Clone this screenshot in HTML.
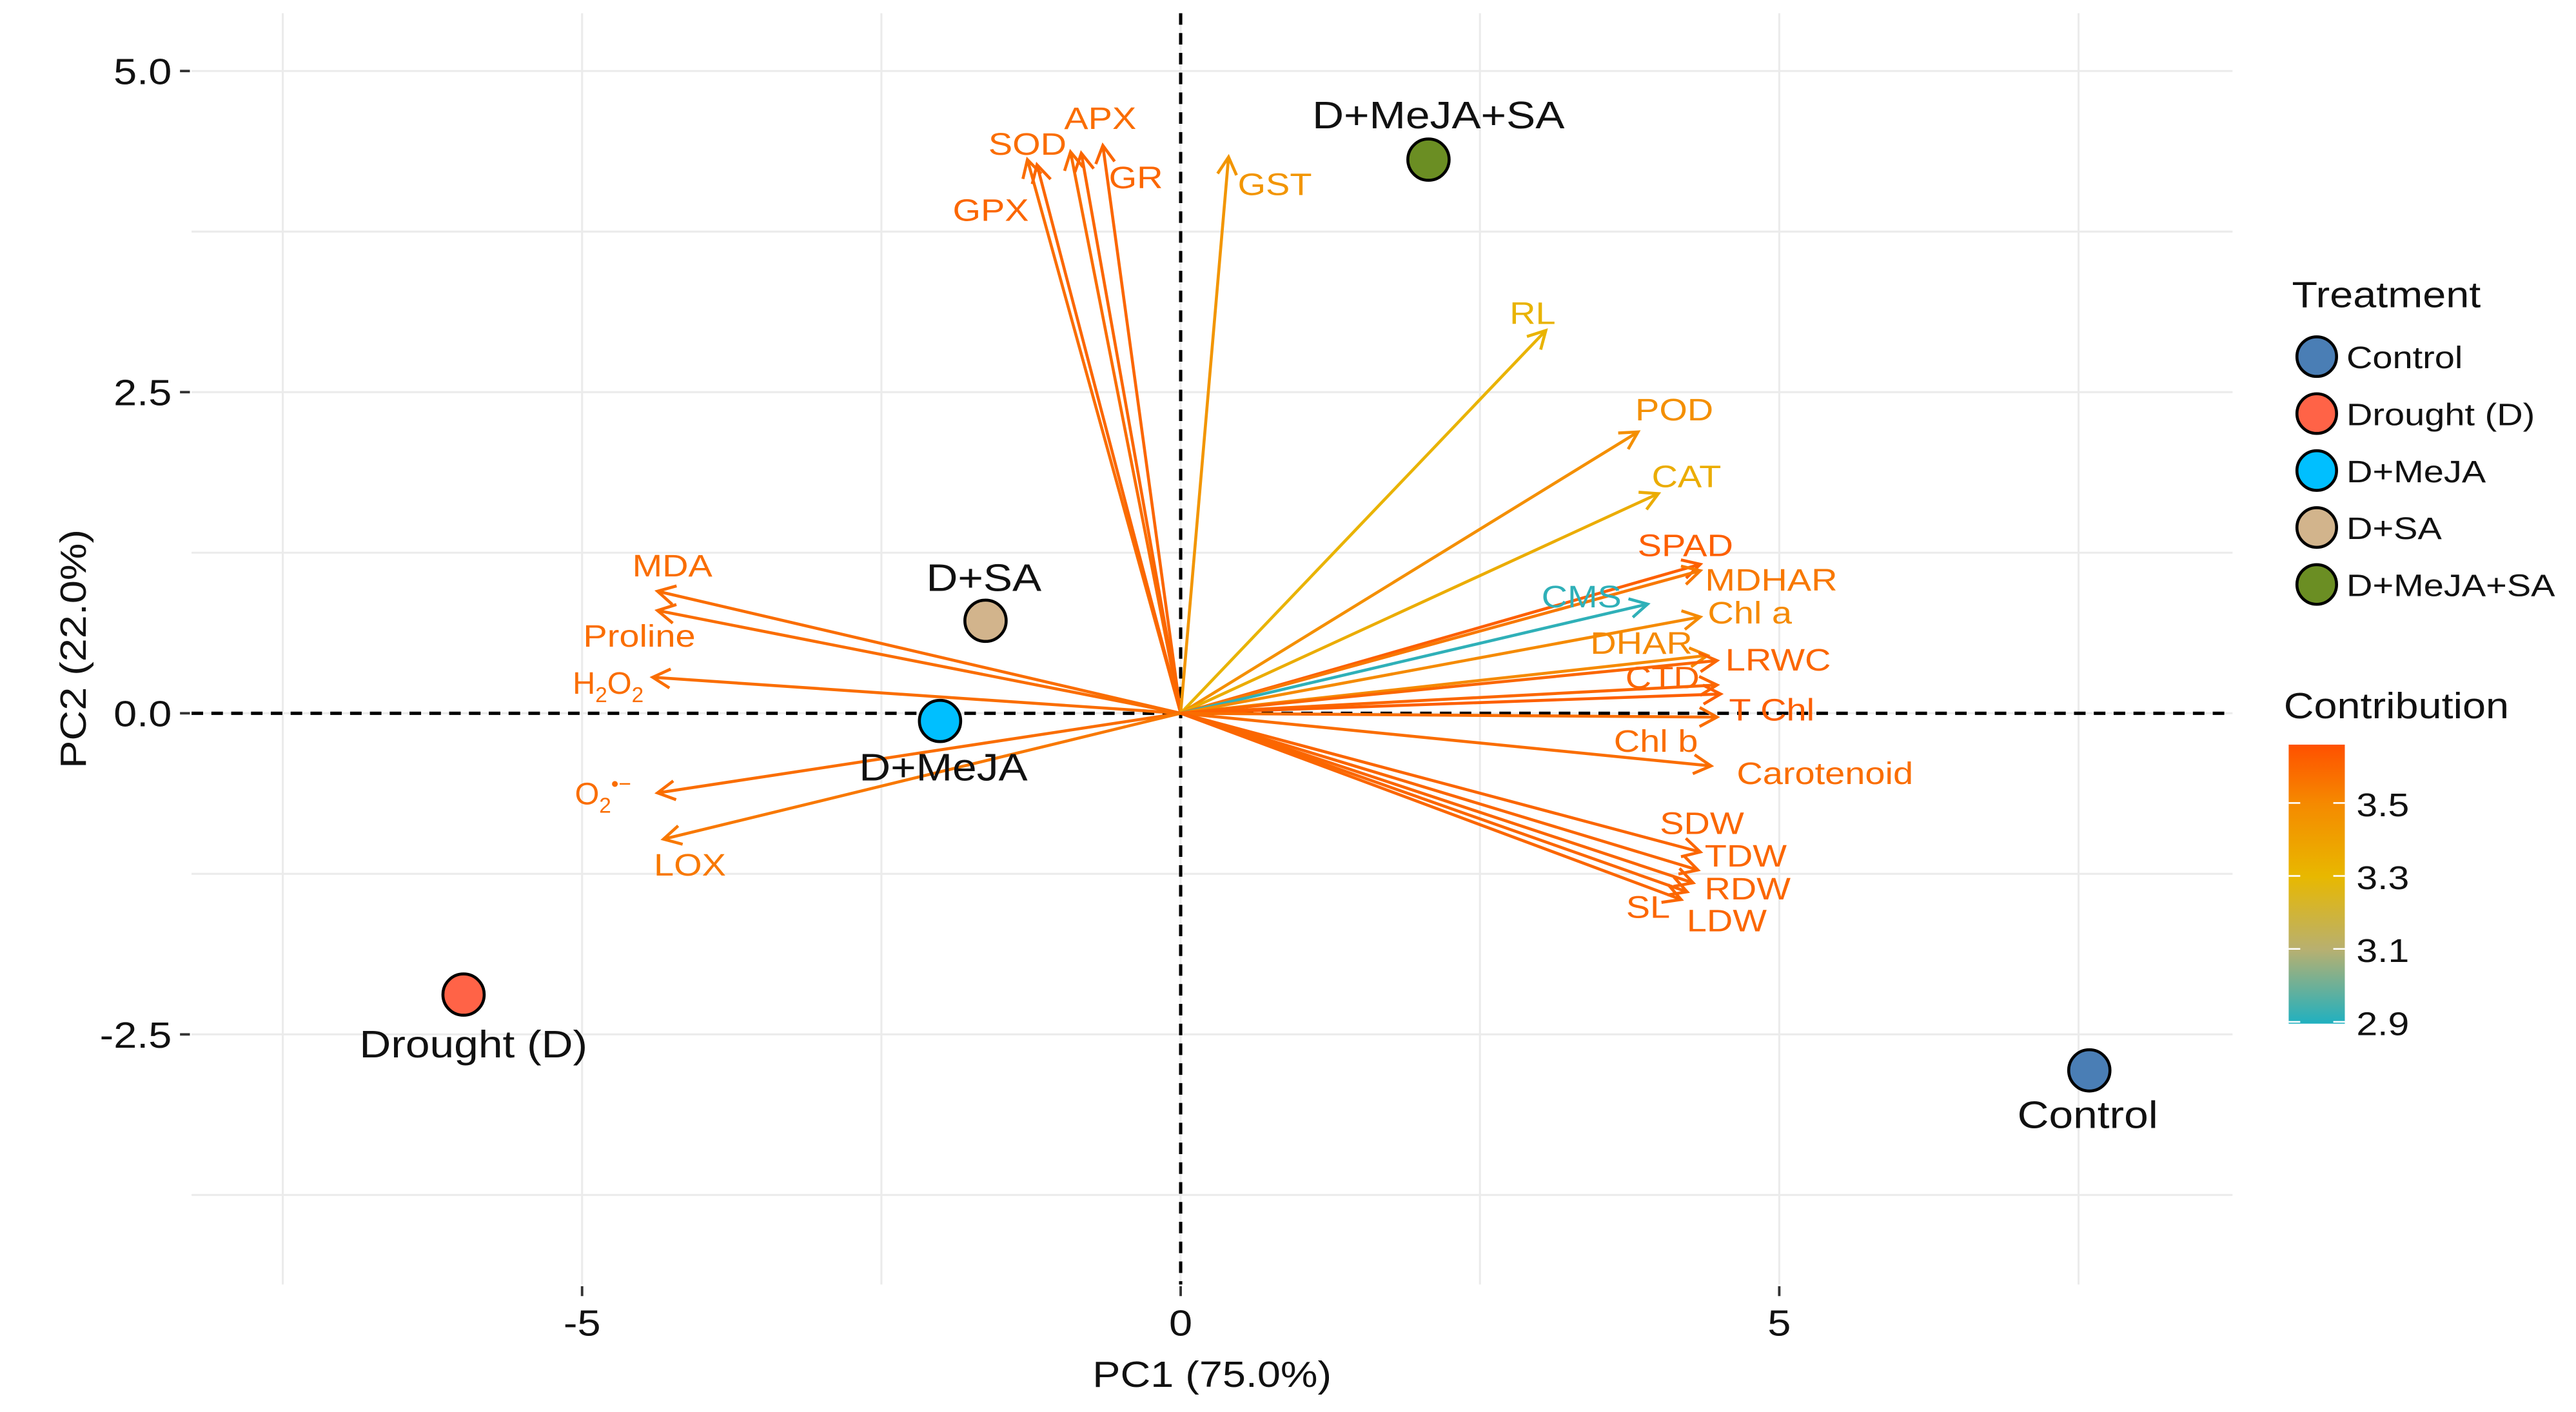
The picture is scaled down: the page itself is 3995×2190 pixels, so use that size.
<!DOCTYPE html>
<html><head><meta charset="utf-8"><style>
html,body{margin:0;padding:0;background:#fff;}
svg{display:block;font-family:"Liberation Sans",sans-serif;}
</style></head><body>
<svg id="chart" width="3995" height="2190" viewBox="0 0 1560 855.2" preserveAspectRatio="none" xmlns="http://www.w3.org/2000/svg">
<defs>
<linearGradient id="cgrad" x1="0" y1="0" x2="0" y2="1">
<stop offset="0" stop-color="#FF5000"/>
<stop offset="0.213" stop-color="#F58A00"/>
<stop offset="0.473" stop-color="#E8B800"/>
<stop offset="0.734" stop-color="#B8B070"/>
<stop offset="1" stop-color="#20B0C0"/>
</linearGradient>
</defs>
<g id="grid"></g>
<g id="arrows"></g>
<g id="points"></g>
<g id="axes"></g>
<g id="legend"></g>
</svg>
<script>
// ---- data ----
const varNames = ["SOD","GPX","APX","GR","GR2","GST","RL","POD","CAT","SPAD","MDHAR","CMS","Chl a","DHAR","LRWC","CTD","T Chl","Chl b","Carotenoid","SDW","TDW","RDW","LDW","SL","MDA","Proline","H2O2","O2","LOX"];
const varPC1 = [-1.28,-1.2,-0.92,-0.65,-0.83,0.40,3.05,3.82,3.99,4.34,4.34,3.90,4.34,4.40,4.48,4.48,4.51,4.48,4.43,4.34,4.32,4.28,4.23,4.18,-4.37,-4.37,-4.41,-4.37,-4.32];
const varPC2 = [4.31,4.27,4.37,4.42,4.36,4.33,2.98,2.19,1.71,1.16,1.11,0.85,0.75,0.45,0.41,0.22,0.15,-0.03,-0.41,-1.08,-1.22,-1.32,-1.39,-1.45,0.95,0.80,0.28,-0.62,-0.98];
const varContrib = [3.58,3.6,3.58,3.6,3.6,3.45,3.32,3.48,3.35,3.62,3.55,2.92,3.5,3.5,3.6,3.6,3.62,3.58,3.58,3.6,3.6,3.6,3.6,3.6,3.58,3.58,3.58,3.58,3.55];
const trtNames = ["Control","Drought (D)","D+MeJA","D+SA","D+MeJA+SA"];
const trtPC1 = [7.59,-5.99,-2.01,-1.63,2.07];
const trtPC2 = [-2.78,-2.19,-0.06,0.72,4.31];
const trtColors = ["#4A7EB5","#FF6347","#00BFFF","#D2B48C","#6B8E23"];
const xTicks = [-5,0,5];
const yTicks = [-2.5,0,2.5,5];
const xTickLabels = ["-5","0","5"];
const yTickLabels = ["-2.5","0.0","2.5","5.0"];
const cbTicks = [3.5,3.3,3.1,2.9];
// ---- label offsets (px, styling) ----
const labOff = {"SOD":[0,-10],"GPX":[-28,27],"APX":[18,-21],"GR":[20,19],"GR2":null,"GST":[28,16],"RL":[-8,-11],"POD":[22,-14],"CAT":[17,-11],"SPAD":[-9,-12],"MDHAR":[43,5],"CMS":[-40,-5],"Chl a":[30,-3],"DHAR":[-40,-8],"LRWC":[37,-1],"CTD":[-33,-5],"T Chl":[31,9],"Chl b":[-37,14],"Carotenoid":[69,4],"SDW":[1,-18],"TDW":[29,-9],"RDW":[33,3],"LDW":[24,17],"SL":[-20,4],"MDA":[9,-16],"Proline":[-11,15],"H2O2":[-27,3],"O2":[-33,0],"LOX":[16,15]};
const trtLabOff = [[-1,27],[6,30],[2,28],[-1,-26],[6,-27]];

const X = v => 715 + 72.5*v, Y = v => 432 - 77.8*v;
const NS = "http://www.w3.org/2000/svg";
function mk(tag, attrs, parent){const e=document.createElementNS(NS,tag);for(const k in attrs)e.setAttribute(k,attrs[k]);parent.appendChild(e);return e;}
function hex(c){return [parseInt(c.slice(1,3),16),parseInt(c.slice(3,5),16),parseInt(c.slice(5,7),16)];}
const cStops=[[2.9,"#20B0C0"],[3.1,"#B8B070"],[3.3,"#E8B800"],[3.5,"#F58A00"],[3.66,"#FF5000"]];
function col(v){v=Math.max(2.9,Math.min(3.66,v));for(let i=0;i<cStops.length-1;i++){const [a,ca]=cStops[i],[b,cb]=cStops[i+1];if(v<=b){const t=(v-a)/(b-a),A=hex(ca),B=hex(cb);return "rgb("+A.map((x,j)=>Math.round(x+(B[j]-x)*t)).join(",")+")";}}return "#FF5000";}

const grid=document.getElementById('grid');
[-7.5,-2.5,2.5,7.5,-5,0,5].forEach(v=>{const l=mk('line',{x1:X(v),x2:X(v),y1:8,y2:778,stroke:'#EBEBEB','stroke-width':1.2},grid);

});
[-3.75,-1.25,1.25,3.75,-2.5,0,2.5,5].forEach(v=>{const l=mk('line',{x1:116,x2:1352,y1:Y(v),y2:Y(v),stroke:'#EBEBEB','stroke-width':1.2},grid);

});
const hz=mk('line',{x1:116,x2:1352,y1:Y(0),y2:Y(0),stroke:'#000','stroke-width':2,'stroke-dasharray':'7,5'},grid);


const vt=mk('line',{x1:X(0),x2:X(0),y1:8,y2:778,stroke:'#000','stroke-width':2,'stroke-dasharray':'7,5'},grid);



const arrows=document.getElementById('arrows');
varNames.forEach((n,i)=>{
  const x2=X(varPC1[i]),y2=Y(varPC2[i]),x1=X(0),y1=Y(0),c=col(varContrib[i]);
  const g=mk('g',{},arrows);
  
  
  mk('line',{x1:x1,y1:y1,x2:x2,y2:y2,stroke:c,'stroke-width':1.8},g);
  const a=Math.atan2(y2-y1,x2-x1),L=12,s=0.5;
  mk('polyline',{points:`${x2-L*Math.cos(a-s)},${y2-L*Math.sin(a-s)} ${x2},${y2} ${x2-L*Math.cos(a+s)},${y2-L*Math.sin(a+s)}`,fill:'none',stroke:c,'stroke-width':1.8},g);
  const o=labOff[n]; if(!o) return;
  const t=mk('text',{x:x2+o[0],y:y2+o[1]+7,'text-anchor':'middle','font-size':19,fill:c},g);
  
  
  if(n==="H2O2"){t.innerHTML='H<tspan font-size="13" dy="5">2</tspan><tspan dy="-5">O</tspan><tspan font-size="13" dy="5">2</tspan>';}
  else if(n==="O2"){t.innerHTML='O<tspan font-size="13" dy="5">2</tspan><tspan font-size="13" dy="-13">•−</tspan>';}
  else t.textContent=n;
});

const pts=document.getElementById('points');
trtNames.forEach((n,i)=>{
  const c=mk('circle',{cx:X(trtPC1[i]),cy:Y(trtPC2[i]),r:12.5,fill:trtColors[i],stroke:'#000','stroke-width':1.8},pts);
  
  
  const t=mk('text',{x:X(trtPC1[i])+trtLabOff[i][0],y:Y(trtPC2[i])+trtLabOff[i][1]+8,'text-anchor':'middle','font-size':23,fill:'#111'},pts);
  t.textContent=n;
  
  
});

const axes=document.getElementById('axes');
xTicks.forEach((v,i)=>{
  mk('line',{x1:X(v),x2:X(v),y1:779,y2:785,stroke:'#333','stroke-width':1.5},axes);
  const t=mk('text',{x:X(v),y:809,'text-anchor':'middle','font-size':22,fill:'#111'},axes);
  t.textContent=xTickLabels[i];
  
  
});
yTicks.forEach((v,i)=>{
  mk('line',{x1:109,x2:115,y1:Y(v),y2:Y(v),stroke:'#333','stroke-width':1.5},axes);
  const t=mk('text',{x:104,y:Y(v)+8,'text-anchor':'end','font-size':22,fill:'#111'},axes);
  t.textContent=yTickLabels[i];
  
  
});
const xt=mk('text',{x:734,y:840,'text-anchor':'middle','font-size':22,fill:'#111'},axes);
xt.textContent='PC1 (75.0%)';


const yt=mk('text',{x:0,y:0,'text-anchor':'middle','font-size':22,fill:'#111',transform:'translate(52,393) rotate(-90)'},axes);
yt.textContent='PC2 (22.0%)';



const lg=document.getElementById('legend');
const lt=mk('text',{x:1388,y:186,'font-size':22,fill:'#111'},lg);
lt.textContent='Treatment';


trtNames.forEach((n,i)=>{
  const yy=216+34.5*i;
  const g=mk('g',{},lg);
  
  
  mk('circle',{cx:1403,cy:yy,r:12,fill:trtColors[i],stroke:'#000','stroke-width':1.8},g);
  const t=mk('text',{x:1421,y:yy+7,'font-size':19,fill:'#111'},g);t.textContent=n;
});
const ct=mk('text',{x:1383,y:435,'font-size':22,fill:'#111'},lg);
ct.textContent='Contribution';


const cb=mk('rect',{x:1386,y:451,width:34,height:169,fill:'url(#cgrad)'},lg);


const cbY=v=>451+(3.66-v)/(3.66-2.895)*169;
cbTicks.forEach(v=>{
  mk('line',{x1:1386,x2:1393,y1:cbY(v),y2:cbY(v),stroke:'#fff','stroke-width':1},lg);
  mk('line',{x1:1413,x2:1420,y1:cbY(v),y2:cbY(v),stroke:'#fff','stroke-width':1},lg);
  const t=mk('text',{x:1427,y:cbY(v)+8,'font-size':20,fill:'#111'},lg);
  t.textContent=v.toFixed(1);
  
  
});
// widen text horizontally to match reference glyph proportions
document.querySelectorAll('#chart text').forEach(t=>{
  if(t.children.length) return;
  const w=t.getComputedTextLength();
  if(w>0){t.setAttribute('textLength',(w*1.15).toFixed(1));t.setAttribute('lengthAdjust','spacingAndGlyphs');}
});
</script>
</body></html>
